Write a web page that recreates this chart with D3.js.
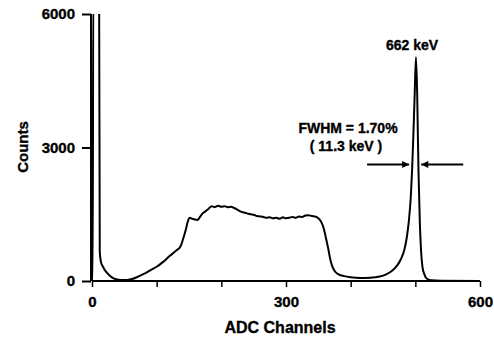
<!DOCTYPE html>
<html><head><meta charset="utf-8">
<script src="https://cdn.jsdelivr.net/npm/d3@7"></script>
<style>
html,body{margin:0;padding:0;background:#fff;}
svg{display:block;}
text{font-family:"Liberation Sans",Arial,sans-serif;font-weight:bold;fill:#000;stroke:#000;stroke-width:0.35px;}
</style></head>
<body>
<script>
// ---- data ----
const channels = [0,1,2,11,12,14,17,20,24,28,32,37,45,55,62,70,80,90,100,110,120,130,137,141,145,148,151,155,159,163,167,171,175,180,185,190,195,200,205,210,215,220,225,230,235,240,245,250,255,260,265,270,275,280,285,290,295,300,305,310,315,320,325,330,335,340,345,350,354,358,362,365,368,371,375,380,390,400,415,430,445,455,465,472,478,483,487,490,493,495,497,499,501,503,504,505,507,509,511,514,518,525,540,600];
const counts   = [0,0,6500,6500,650,420,320,240,170,110,70,40,22,25,45,90,160,240,320,430,560,680,780,950,1150,1330,1420,1400,1380,1370,1440,1520,1560,1620,1680,1660,1690,1670,1680,1660,1670,1640,1600,1560,1540,1520,1500,1490,1460,1450,1440,1420,1430,1410,1420,1400,1430,1410,1420,1440,1420,1450,1440,1470,1480,1460,1450,1410,1340,1200,950,750,520,350,230,160,110,85,70,75,100,150,240,350,500,700,1000,1350,1900,2500,3300,4200,5030,4100,3200,2400,1300,650,320,150,50,15,5,0];
const xTicks = [0,100,200,300,400,500,600];
const xTickLabels = ["0","","","300","","","600"];
const yTicks = [0,3000,6000];
const xTitle = "ADC Channels";
const yTitle = "Counts";
const peakLabel = "662 keV";
const fwhmLine1 = "FWHM = 1.70%";
const fwhmLine2 = "( 11.3 keV )";
const fwhmChannels = [495, 504.5];   // half-max crossing channels
const fwhmCount = 2620;

const W = 494, H = 337;
const svg = d3.select("body").append("svg").attr("width", W).attr("height", H);

const x = d3.scaleLinear().domain([0,600]).range([92,480]);
const y = d3.scaleLinear().domain([0,6000]).range([281,14]);

// clip for off-scale peak
svg.append("clipPath").attr("id","clip").append("rect")
  .attr("x", x(0)-2).attr("y", y(6000)).attr("width", x(600)-x(0)+4).attr("height", y(0)-y(6000)+2);

const data = channels.map((c,i)=>({c, v: counts[i]}));
const line = d3.line().x(d=>x(d.c)).y(d=>y(d.v)).curve(d3.curveMonotoneX);

svg.append("path").datum(data)
  .attr("clip-path","url(#clip)")
  .attr("d", line)
  .attr("fill","none").attr("stroke","#000").attr("stroke-width",2).attr("stroke-linejoin","round");

// axes
const xAxis = d3.axisBottom(x).tickValues(xTicks).tickSize(6).tickPadding(9)
  .tickFormat((d,i)=>xTickLabels[i]);
const gx = svg.append("g").attr("transform",`translate(0,${y(0)})`).call(xAxis);
gx.select(".domain").attr("stroke-width",2).attr("d", `M${x(0)},0H${x(600)}`);
gx.selectAll(".tick line").attr("stroke-width",1.5);
gx.selectAll("text").style("font-size","15px").style("font-family",null);

const yAxis = d3.axisLeft(y).tickValues(yTicks).tickSize(9).tickPadding(7).tickFormat(d3.format("d"));
const gy = svg.append("g").attr("transform",`translate(${x(0)-1},0)`).call(yAxis);
gy.select(".domain").attr("stroke-width",2).attr("d", `M0,${y(6000)}V${y(0)}`);
gy.selectAll(".tick line").attr("stroke-width",2);
gy.selectAll("text").style("font-size","15px").style("font-family",null);

// titles
svg.append("text").attr("x", 280).attr("y", 333).attr("text-anchor","middle")
  .style("font-size","16px").text(xTitle);
svg.append("text").attr("transform",`translate(28,147) rotate(-90)`).attr("text-anchor","middle")
  .style("font-size","15px").text(yTitle);

// annotations
svg.append("text").attr("x", x(501)-4).attr("y", 50).attr("text-anchor","middle")
  .style("font-size","14px").text(peakLabel);
svg.append("text").attr("x", 348).attr("y", 133).attr("text-anchor","middle")
  .style("font-size","14px").text(fwhmLine1);
svg.append("text").attr("x", 346).attr("y", 151).attr("text-anchor","middle")
  .style("font-size","14px").text(fwhmLine2);

// arrows
const defs = svg.append("defs");
defs.append("marker").attr("id","ah").attr("viewBox","0 0 10 10").attr("refX",10).attr("refY",5)
  .attr("markerWidth",9).attr("markerHeight",7).attr("markerUnits","userSpaceOnUse").attr("orient","auto")
  .append("path").attr("d","M0,0L10,5L0,10Z").attr("fill","#000");
const ay = y(fwhmCount);
svg.append("line").attr("x1", x(fwhmChannels[0])-45).attr("x2", x(fwhmChannels[0])-3)
  .attr("y1", ay).attr("y2", ay).attr("stroke","#000").attr("stroke-width",2).attr("marker-end","url(#ah)");
svg.append("line").attr("x1", x(fwhmChannels[1])+45).attr("x2", x(fwhmChannels[1])+3)
  .attr("y1", ay).attr("y2", ay).attr("stroke","#000").attr("stroke-width",2).attr("marker-end","url(#ah)");
</script>
</body></html>
